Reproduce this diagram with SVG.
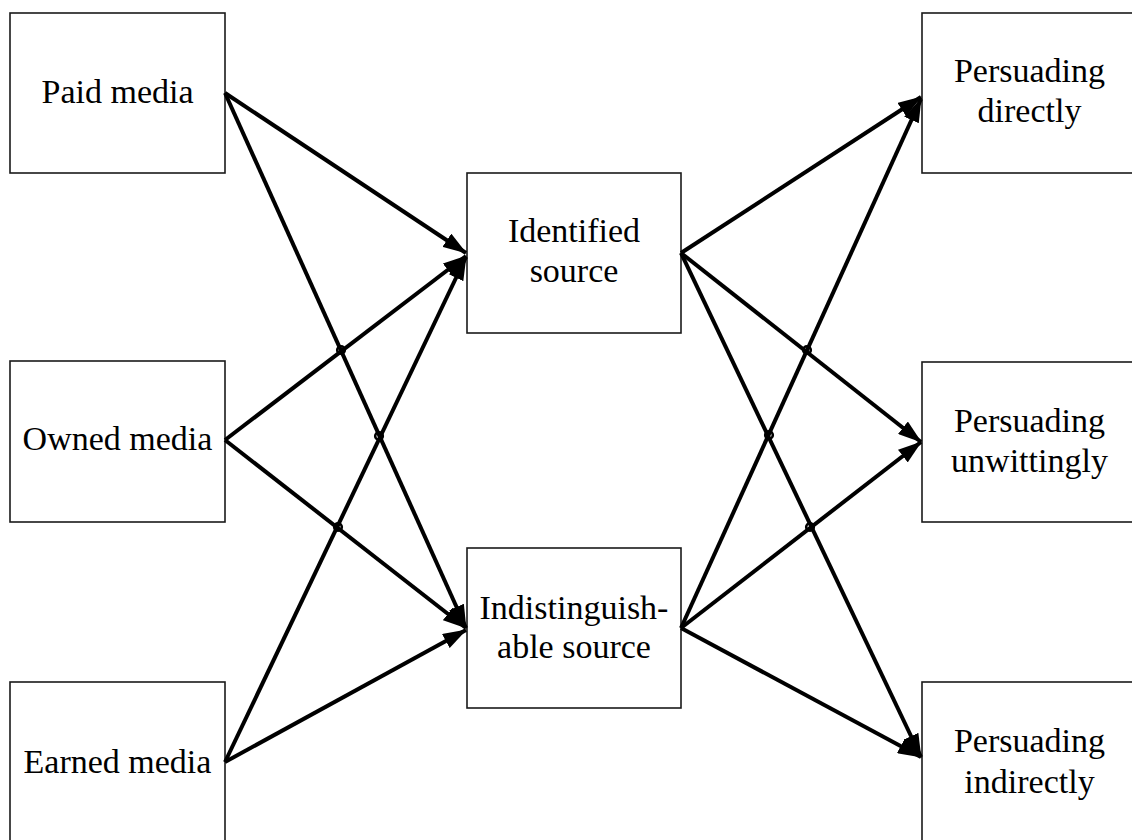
<svg xmlns="http://www.w3.org/2000/svg" width="1132" height="840" viewBox="0 0 1132 840">
  <style>
    .box { fill: #ffffff; stroke: #1a1a1a; stroke-width: 1.6; }
    .lbl { font-family: "Liberation Serif", "Times New Roman", serif; font-size: 34px; fill: #000000; text-anchor: middle; }
    .edge { fill: none; stroke: #000000; stroke-width: 4; marker-end: url(#head); }
    .hop { fill: none; stroke: #000000; stroke-width: 2.6; }
  </style>
  <defs>
    <marker id="head" viewBox="0 0 24 16" refX="23" refY="8" markerWidth="24" markerHeight="16" markerUnits="userSpaceOnUse" orient="auto">
      <path d="M0,0 L24,8 L0,16 Z" fill="#000000"/>
    </marker>
  </defs>

  <rect width="1132" height="840" fill="#ffffff"/>

  <!-- media channels -->
  <g id="paid">
    <rect class="box" x="10" y="13" width="215" height="160"/>
    <text class="lbl" x="117.5" y="103">Paid media</text>
  </g>
  <g id="owned">
    <rect class="box" x="10" y="361" width="215" height="161"/>
    <text class="lbl" x="117.5" y="450">Owned media</text>
  </g>
  <g id="earned">
    <rect class="box" x="10" y="682" width="215" height="170"/>
    <text class="lbl" x="117.5" y="773">Earned media</text>
  </g>

  <!-- source types -->
  <g id="identified">
    <rect class="box" x="467" y="173" width="214" height="160"/>
    <text class="lbl" x="574" y="242">Identified</text>
    <text class="lbl" x="574" y="282">source</text>
  </g>
  <g id="indistinguishable">
    <rect class="box" x="467" y="548" width="214" height="160"/>
    <text class="lbl" x="574" y="619">Indistinguish-</text>
    <text class="lbl" x="574" y="658">able source</text>
  </g>

  <!-- persuasion modes -->
  <g id="directly">
    <rect class="box" x="922" y="13" width="220" height="160"/>
    <text class="lbl" x="1029.5" y="82">Persuading</text>
    <text class="lbl" x="1029.5" y="122">directly</text>
  </g>
  <g id="unwittingly">
    <rect class="box" x="922" y="362" width="220" height="160"/>
    <text class="lbl" x="1029.5" y="432">Persuading</text>
    <text class="lbl" x="1029.5" y="472">unwittingly</text>
  </g>
  <g id="indirectly">
    <rect class="box" x="922" y="682" width="220" height="170"/>
    <text class="lbl" x="1029.5" y="752">Persuading</text>
    <text class="lbl" x="1029.5" y="793">indirectly</text>
  </g>

  <!-- connectors -->
  <g id="connectors">
    <line class="edge" x1="225" y1="93" x2="466" y2="253"/>
    <line class="edge" x1="225" y1="93" x2="466" y2="628"/>
    <line class="edge" x1="225" y1="440" x2="466" y2="256"/>
    <line class="edge" x1="225" y1="440" x2="466" y2="628"/>
    <line class="edge" x1="225" y1="762" x2="466" y2="257"/>
    <line class="edge" x1="225" y1="762" x2="466" y2="630"/>

    <line class="edge" x1="681" y1="253" x2="921" y2="97"/>
    <line class="edge" x1="681" y1="253" x2="921" y2="442"/>
    <line class="edge" x1="681" y1="253" x2="921" y2="757"/>
    <line class="edge" x1="681" y1="628" x2="921" y2="99"/>
    <line class="edge" x1="681" y1="628" x2="921" y2="442"/>
    <line class="edge" x1="681" y1="628" x2="921" y2="757"/>

    <!-- line hops at crossings -->
    <circle class="hop" cx="341" cy="350" r="3.8"/>
    <circle class="hop" cx="379" cy="436" r="3.8"/>
    <circle class="hop" cx="338" cy="527" r="3.8"/>
    <circle class="hop" cx="807" cy="350" r="3.8"/>
    <circle class="hop" cx="769" cy="435" r="3.8"/>
    <circle class="hop" cx="810" cy="527" r="3.8"/>
  </g>
</svg>
